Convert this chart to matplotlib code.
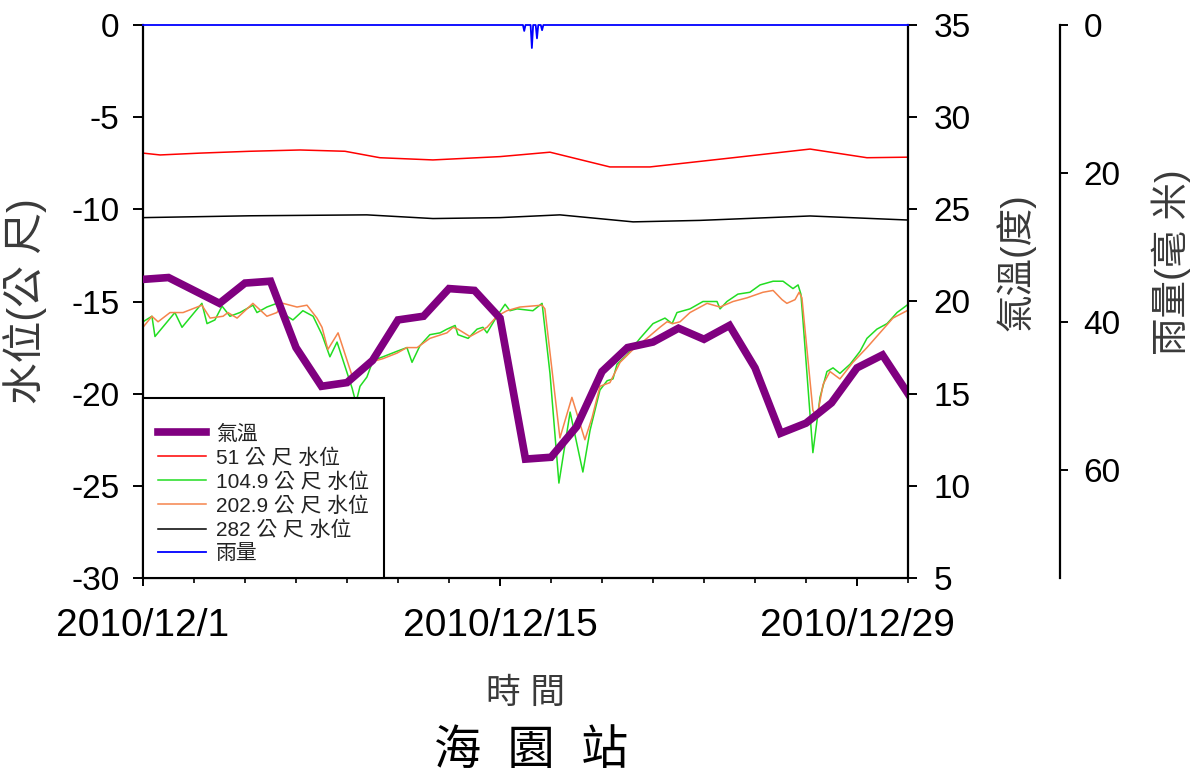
import matplotlib
matplotlib.use("Agg")
import matplotlib.pyplot as plt
import matplotlib.dates as mdates
import matplotlib.ticker as mticker
import numpy as np
import pandas as pd

plt.rcParams["font.family"] = ["Liberation Sans", "Noto Sans CJK TC", "DejaVu Sans"]
plt.rcParams["axes.unicode_minus"] = False

START = pd.Timestamp("2010-12-01")

# daily air temperature (deg C), one value per day from 12/1 to 12/31
temp_day = list(range(31))
temp_val = [21.2, 21.3, 20.6, 19.9, 21.0, 21.1, 17.5, 15.4, 15.6, 16.8, 19.0,
            19.2, 20.7, 20.6, 19.1, 11.45, 11.55, 13.2, 16.2, 17.5, 17.8, 18.55,
            17.95, 18.7, 16.4, 12.85, 13.4, 14.5, 16.4, 17.1, 15.0]

# water level (m), day offsets from 12/1
w51_day = [0, 0.67, 2.24, 4.2, 6.16, 7.92, 9.29, 11.37, 14.0, 15.96, 18.31, 19.88, 23.14, 26.16, 28.39, 30]
w51_val = [-6.95, -7.05, -6.95, -6.85, -6.78, -6.85, -7.2, -7.32, -7.14, -6.9, -7.7, -7.7, -7.2, -6.73, -7.2, -7.17]

w282_day = [0, 4.2, 8.78, 11.37, 14.0, 16.35, 19.22, 21.84, 26.16, 30]
w282_val = [-10.45, -10.35, -10.3, -10.5, -10.45, -10.3, -10.68, -10.6, -10.36, -10.58]

w105_day = [0.0, 0.35, 0.47, 1.25, 1.53, 2.31, 2.51, 2.82, 3.10, 3.41, 3.80, 4.31, 4.47, 4.86,
            5.25, 5.65, 5.88, 6.27, 6.67, 7.02, 7.33, 7.61, 8.20, 8.35, 8.51, 8.78, 9.02, 9.41,
            9.96, 10.35, 10.55, 10.86, 11.25, 11.65, 11.92, 12.24, 12.35, 12.75, 13.10, 13.33,
            13.49, 13.88, 14.20, 14.39, 14.67, 15.29, 15.65, 15.96, 16.31, 16.75, 17.25, 17.53,
            17.92, 18.20, 18.43, 18.59, 18.98, 19.49, 20.00, 20.47, 20.75, 20.94, 21.45, 21.96,
            22.51, 22.63, 22.90, 23.33, 23.80, 24.20, 24.71, 25.10, 25.49, 25.69, 25.80, 25.88,
            26.27, 26.55, 26.82, 27.06, 27.33, 27.73, 28.12, 28.39, 28.78, 29.18, 29.57, 29.96]
w105_val = [-16.1, -15.8, -16.9, -15.6, -16.4, -15.1, -16.2, -16.0, -15.25, -15.8, -15.6, -15.2,
            -15.6, -15.3, -15.1, -15.8, -16.0, -15.5, -15.8, -16.8, -18.0, -17.2, -19.7, -20.5,
            -19.6, -19.1, -18.2, -18.0, -17.7, -17.5, -18.3, -17.4, -16.8, -16.7, -16.5, -16.3,
            -16.8, -17.0, -16.5, -16.4, -16.7, -15.8, -15.15, -15.5, -15.4, -15.5, -15.1, -18.9,
            -24.85, -21.0, -24.25, -22.0, -19.8, -19.3, -19.2, -18.4, -17.9, -17.0, -16.2, -15.9,
            -16.2, -15.6, -15.4, -15.0, -15.0, -15.4, -15.0, -14.6, -14.5, -14.1, -13.9, -13.9,
            -14.3, -14.1, -14.6, -16.0, -23.2, -20.2, -18.8, -18.6, -18.9, -18.4, -17.7, -17.0,
            -16.5, -16.2, -15.6, -15.2]

w203_day = [0.0, 0.35, 0.59, 1.06, 1.57, 2.31, 2.63, 3.14, 3.33, 3.69, 4.31, 4.86, 5.25, 5.49,
            6.04, 6.43, 6.82, 7.02, 7.25, 7.65, 8.24, 8.39, 8.90, 9.41, 9.96, 10.35, 10.75, 11.25,
            11.92, 12.16, 12.35, 12.82, 13.49, 13.88, 14.27, 14.78, 15.65, 15.76, 16.35, 16.82,
            17.33, 17.61, 17.92, 18.31, 18.71, 19.22, 19.76, 20.27, 20.55, 20.78, 21.06, 21.45,
            22.12, 22.63, 23.14, 23.69, 24.31, 24.71, 25.06, 25.25, 25.57, 25.73, 25.84, 26.27,
            26.43, 26.67, 26.94, 27.33, 27.84, 28.39, 28.90, 29.41, 29.96]
w203_val = [-16.4, -15.8, -16.1, -15.6, -15.6, -15.2, -15.9, -15.8, -15.6, -15.9, -15.1, -15.8,
            -15.6, -15.1, -15.3, -15.2, -15.9, -16.4, -17.6, -16.7, -19.2, -19.1, -18.3, -18.1,
            -17.8, -17.5, -17.5, -17.0, -16.7, -16.4, -16.5, -16.9, -16.4, -15.8, -15.5, -15.3,
            -15.2, -15.4, -22.4, -20.2, -22.5, -21.3, -19.6, -19.4, -18.3, -17.6, -17.0, -16.4,
            -16.1, -16.2, -16.1, -15.6, -15.1, -15.3, -15.0, -14.8, -14.5, -14.4, -14.9, -15.1,
            -14.9, -14.5, -14.8, -20.9, -21.3, -19.5, -18.8, -19.2, -18.3, -17.5, -16.7, -15.9,
            -15.5]

# rainfall (mm)
rain_day = [0, 14.9, 14.95, 15.0, 15.05, 15.2, 15.25, 15.3, 15.4, 15.45, 15.5, 15.6, 15.65, 15.7, 30]
rain_val = [0, 0, 0.8, 0, 0, 0, 3.1, 0, 0, 1.8, 0, 0, 0.7, 0, 0]

major_dates = ["2010-12-01", "2010-12-15", "2010-12-29"]
labels = ["氣溫", "51 公 尺 水位", "104.9 公 尺 水位", "202.9 公 尺 水位", "282 公 尺 水位", "雨量"]


def to_time(days):
    return START + pd.to_timedelta(np.asarray(days, dtype=float), unit="D")


def date_label(value, pos):
    d = mdates.num2date(value)
    return f"{d.year}/{d.month}/{d.day}"


GRAY = "#3a3a3a"

fig = plt.figure(figsize=(11.94, 7.74), dpi=100)
ax = fig.add_axes([143 / 1194, 1 - 578 / 774, 765 / 1194, 553 / 774])
ax_t = ax.twinx()
ax_r = ax.twinx()

h51, = ax.plot(to_time(w51_day), w51_val, color="#ff0000", lw=1.1)
h105, = ax.plot(to_time(w105_day), w105_val, color="#22dd22", lw=1.1)
h203, = ax.plot(to_time(w203_day), w203_val, color="#f5844c", lw=1.1)
h282, = ax.plot(to_time(w282_day), w282_val, color="black", lw=1.1)
ht, = ax_t.plot(to_time(temp_day), temp_val, color="#800080", lw=5.5, solid_joinstyle="miter")
hr, = ax_r.plot(to_time(rain_day), rain_val, color="#0000ff", lw=1.3, clip_on=False)

ax.set_ylim(-30, 0)
ax_t.set_ylim(5, 35)
ax_r.set_ylim(74.5, 0)
ax.set_xlim(START, to_time([30])[0])

ax.set_yticks(range(-30, 1, 5))
ax_t.set_yticks(range(5, 36, 5))
ax_r.set_yticks([0, 20, 40, 60])

ax.xaxis.set_major_locator(mticker.FixedLocator(mdates.date2num(pd.to_datetime(major_dates))))
ax.xaxis.set_minor_locator(mdates.DayLocator(interval=2))
ax.xaxis.set_major_formatter(mticker.FuncFormatter(date_label))

for a in (ax, ax_t, ax_r):
    a.spines["top"].set_visible(False)
    for s in a.spines.values():
        s.set_linewidth(1.6)
ax.spines["right"].set_visible(False)
ax_t.spines["left"].set_visible(False)
ax_t.spines["bottom"].set_visible(False)
ax_r.spines["left"].set_visible(False)
ax_r.spines["bottom"].set_visible(False)
ax_r.spines["right"].set_position(("axes", 1 + 152 / 765))

ax.tick_params(axis="y", direction="out", length=7, width=1.4, labelsize=24, pad=10)
ax.tick_params(axis="x", which="major", direction="out", length=5.5, width=1.4, labelsize=28, pad=16)
ax.tick_params(axis="x", which="minor", direction="out", length=3.5, width=1.2)
ax_t.tick_params(axis="y", direction="out", length=6.5, width=1.4, labelsize=24, pad=12)
ax_r.tick_params(axis="y", direction="out", length=6, width=1.4, labelsize=24, pad=11)

ax.set_ylabel("水位(公 尺)", fontsize=30, color=GRAY)
ax.yaxis.set_label_coords(-0.125, 0.5)
ax_t.set_ylabel("氣溫(度)", fontsize=27, color=GRAY)
ax_t.yaxis.set_label_coords(1.114, 0.571)
ax_r.set_ylabel("雨量(毫 米)", fontsize=27, color=GRAY)
ax_r.yaxis.set_label_coords(1.318, 0.571)
ax.set_xlabel("時 間", fontsize=25, color=GRAY, labelpad=24)
fig.text(0.445, 0.028, "海  園  站", fontsize=34, ha="center", va="center")

leg = ax_r.legend([ht, h51, h105, h203, h282, hr], labels, loc="lower left",
                  bbox_to_anchor=(0, 0), borderaxespad=0, fancybox=False, framealpha=1,
                  edgecolor="black", fontsize=15, handlelength=2.3, labelspacing=0.22,
                  borderpad=0.7, handletextpad=0.5, title=" ", title_fontsize=6)
leg.get_frame().set_linewidth(1.5)
for t in leg.get_texts():
    t.set_color("#222222")

fig.savefig("out.png", dpi=100)
